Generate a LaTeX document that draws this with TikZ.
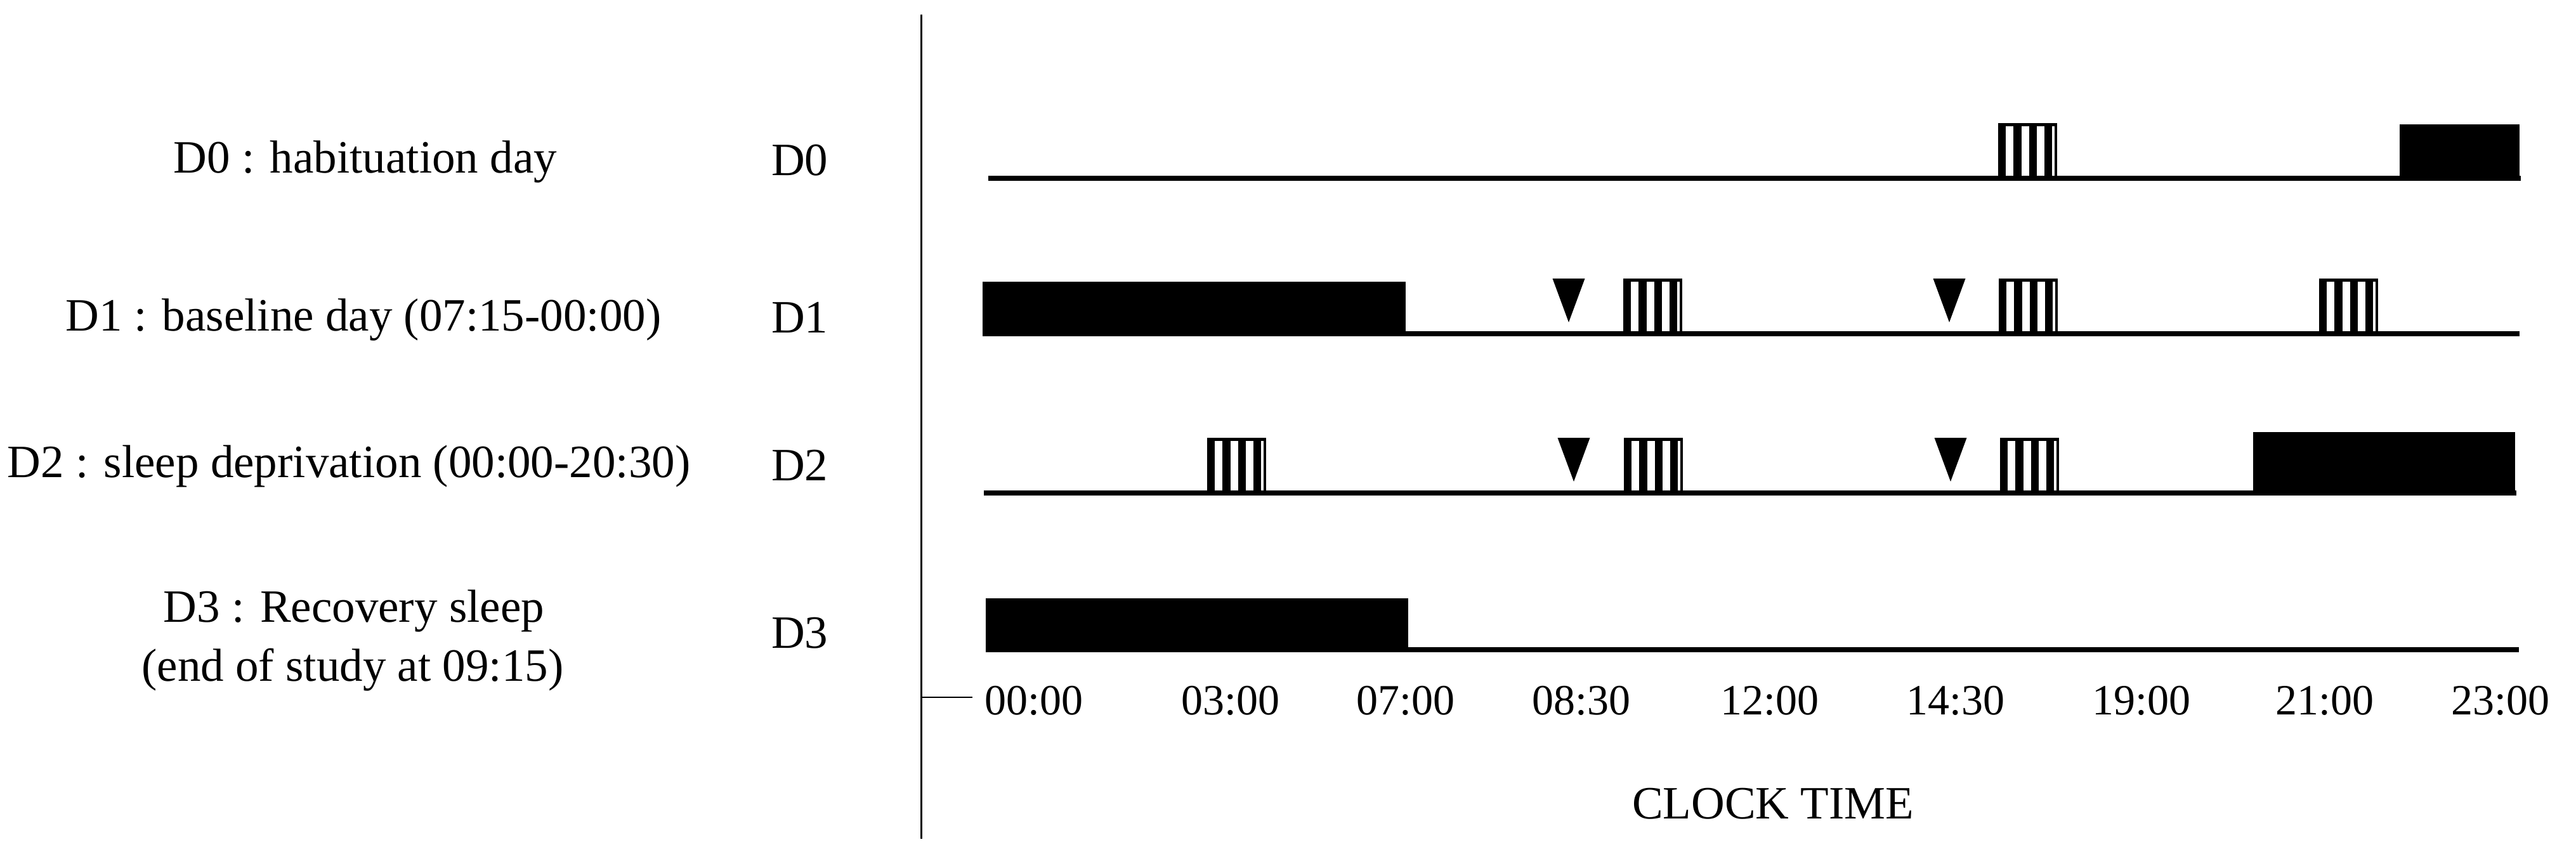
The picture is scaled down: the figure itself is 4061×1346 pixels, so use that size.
\documentclass[tikz,border=0pt]{standalone}
\usepackage{fontspec}
\setmainfont{Liberation Serif}
\newcommand\stripebox[2]{%
  \fill (#1,#2) rectangle ++(93,-87);
  \foreach \a/\b in {12.3/24,36.7/49,60.7/72.7,84.5/89}
    \fill[white] (#1+\a,#2-82) rectangle (#1+\b,#2-4);
}
\newcommand\marktri[2]{%
  \fill (#1-25.5,#2-87) -- (#1+25.5,#2-87) -- (#1,#2-18) -- cycle;
}
\begin{document}
\begin{tikzpicture}[x=1pt,y=-1pt,
  lbl/.style={anchor=base,inner sep=0pt,font=\fontsize{73}{80}\selectfont},
  dlbl/.style={anchor=base west,inner sep=0pt,font=\fontsize{73}{80}\selectfont},
  tlbl/.style={anchor=base,inner sep=0pt,font=\fontsize{68}{75}\selectfont},
  tline/.style={line width=8pt},
  ]
\useasboundingbox[fill=white] (0,0) rectangle (4061,1346);

% left labels
\node[lbl] (l0) at (576,272) {D0 : habituation day};
\node[lbl] (l1) at (573,521) {D1 : baseline day (07:15-00:00)};
\node[lbl] (l2) at (550,752) {D2 : sleep deprivation (00:00-20:30)};
\node[lbl] (l3a) at (558,980) {D3 : Recovery sleep};
\node[lbl] (l3b) at (556,1073) {(end of study at 09:15)};

% day labels
\node[dlbl] (d0) at (1216,276) {D0};
\node[dlbl] (d1) at (1216,524) {D1};
\node[dlbl] (d2) at (1216,757) {D2};
\node[dlbl] (d3) at (1216,1021) {D3};

% axis
\coordinate (axt) at (1452,23);
\coordinate (axb) at (1452,1322);
\draw[line width=3pt] (axt) -- (axb);
\coordinate (tk0) at (1452,1099);
\coordinate (tk1) at (1533,1099);
\draw[line width=2pt] (tk0) -- (tk1);

% D0
\coordinate (a0) at (1558,281); \coordinate (b0) at (3974,281);
\draw[tline] (a0) -- (b0);
\stripebox{3150}{281}
\fill (3783,281) rectangle (3972,196);

% D1
\coordinate (a1) at (1549,526); \coordinate (b1) at (3972,526);
\draw[tline] (a1) -- (b1);
\fill (1549,530) rectangle (2216,444);
\marktri{2473}{526}
\stripebox{2559}{526}
\marktri{3073}{526}
\stripebox{3151}{526}
\stripebox{3656}{526}

% D2
\coordinate (a2) at (1551,777); \coordinate (b2) at (3967,777);
\draw[tline] (a2) -- (b2);
\stripebox{1903}{777}
\marktri{2481}{777}
\stripebox{2560}{777}
\marktri{3075}{777}
\stripebox{3153}{777}
\fill (3552,781) rectangle (3965,681);

% D3
\coordinate (a3) at (1554,1024); \coordinate (b3) at (3971,1024);
\draw[tline] (a3) -- (b3);
\fill (1554,1028) rectangle (2220,943);

% time labels
\node[tlbl] (t1) at (1630,1126) {00:00};
\node[tlbl] (t2) at (1940,1126) {03:00};
\node[tlbl] (t3) at (2216,1126) {07:00};
\node[tlbl] (t4) at (2493,1126) {08:30};
\node[tlbl] (t5) at (2790,1126) {12:00};
\node[tlbl] (t6) at (3083,1126) {14:30};
\node[tlbl] (t7) at (3376,1126) {19:00};
\node[tlbl] (t8) at (3665,1126) {21:00};
\node[tlbl] (t9) at (3942,1126) {23:00};

\node[lbl] (ct) at (2795,1290) {CLOCK TIME};
\end{tikzpicture}
\end{document}
